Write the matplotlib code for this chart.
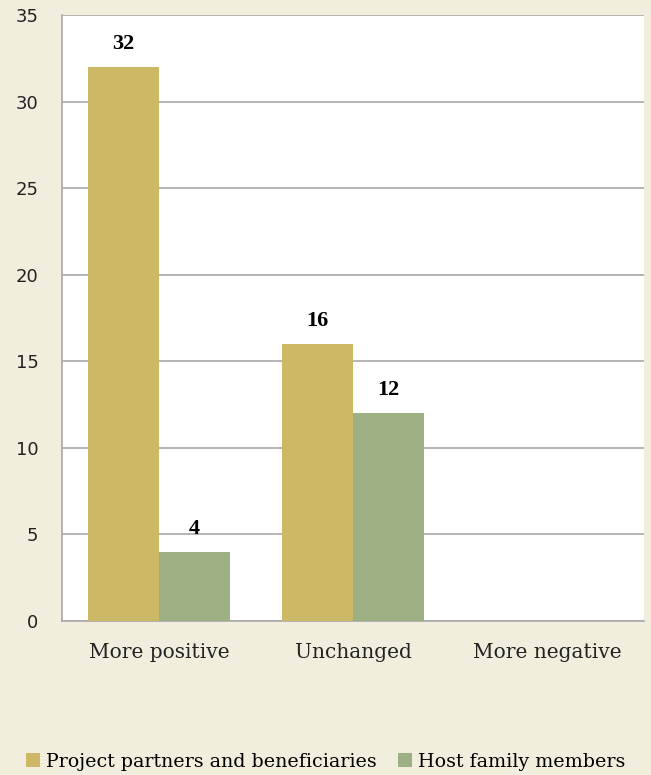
import matplotlib
matplotlib.use("Agg")
import matplotlib.pyplot as plt
import numpy as np

categories = ["More positive", "Unchanged", "More negative"]
series_names = ["Project partners and beneficiaries", "Host family members"]
partners = [32, 16, None]
host = [4, 12, None]
yticks = [0, 5, 10, 15, 20, 25, 30, 35]

bg = "#F2EEDD"
gold = "#CDB866"
green = "#9DB084"
serif = ["DejaVu Serif"]
bold_serif = ["Liberation Serif", "DejaVu Serif"]

fig = plt.figure(figsize=(6.51, 7.75), dpi=100, facecolor=bg)
ax = fig.add_axes([62/651, 1-621/775, 582/651, 606/775])
ax.set_facecolor("white")

x = np.arange(len(categories))
w = 0.366
vals_p = [v if v is not None else 0 for v in partners]
vals_h = [v if v is not None else 0 for v in host]
ax.bar(x - w/2, vals_p, w, color=gold, label=series_names[0], zorder=3)
ax.bar(x + w/2, vals_h, w, color=green, label=series_names[1], zorder=3)

for i, v in enumerate(partners):
    if v is not None:
        ax.text(x[i] - w/2, v + 0.75, str(v), ha="center", va="bottom",
                fontsize=16, fontweight="bold", family=bold_serif)
for i, v in enumerate(host):
    if v is not None:
        ax.text(x[i] + w/2, v + 0.75, str(v), ha="center", va="bottom",
                fontsize=16, fontweight="bold", family=bold_serif)

ax.set_xlim(-0.5, 2.5)
ax.set_ylim(0, 35)
ax.set_yticks(yticks)
ax.set_yticklabels([str(t) for t in yticks], fontsize=13, family="DejaVu Sans", color="#222222")
ax.set_xticks(x)
ax.set_xticklabels(categories, fontsize=14.5, family=serif, color="#222222")
ax.tick_params(axis="both", length=0)
ax.tick_params(axis="y", pad=17)
ax.tick_params(axis="x", pad=16)
ax.yaxis.grid(True, color="#A8A8A8", linewidth=1.2, zorder=0)
ax.set_axisbelow(True)
for s in ["top", "right"]:
    ax.spines[s].set_visible(False)
ax.spines["left"].set_color("#A8A8A8")
ax.spines["bottom"].set_color("#A8A8A8")
ax.spines["left"].set_linewidth(1.2)
ax.spines["bottom"].set_linewidth(1.2)

leg = fig.legend(loc="center", bbox_to_anchor=(0.5, 1-762/775), ncol=2, frameon=False,
                 prop={"family": serif, "size": 13.7}, handlelength=0.75, handleheight=0.75,
                 handletextpad=0.3, columnspacing=1.1)
fig.savefig("out.png", dpi=100, facecolor=bg)
